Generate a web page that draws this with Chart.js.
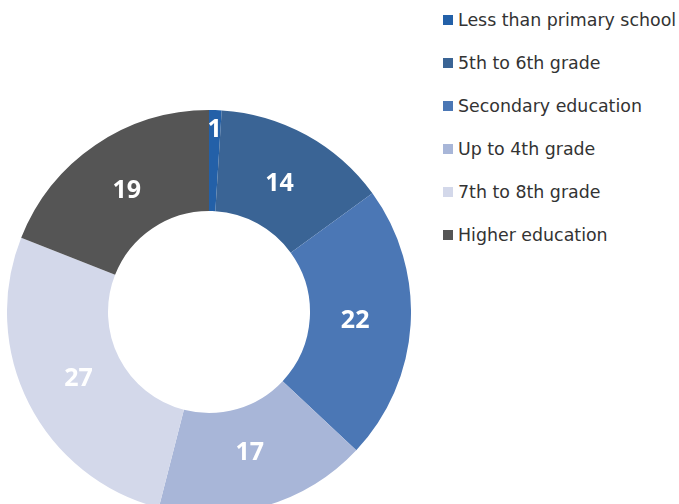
<!DOCTYPE html>
<html>
<head>
<meta charset="utf-8">
<script src="https://cdn.jsdelivr.net/npm/chart.js@4/dist/chart.umd.min.js"></script>
<style>
  html, body { margin: 0; padding: 0; width: 679px; height: 504px; overflow: hidden; background: #fff; }
  #wrap { position: absolute; left: 7px; top: 110px; width: 404px; height: 404px; }
  #legend { position: absolute; left: 443px; top: 0; margin: 0; padding: 0; list-style: none;
            font-family: "DejaVu Sans", sans-serif; font-size: 17.4px; color: #333333; }
  #legend li { height: 43px; display: flex; align-items: center; position: relative; top: -2px; white-space: nowrap; }
  #legend .sw { width: 10px; height: 10px; margin-right: 5px; flex: none; }
</style>
</head>
<body>
<div id="wrap"><canvas id="c" width="404" height="404"></canvas></div>
<ul id="legend"></ul>
<script>
const categories = [
  "Less than primary school",
  "5th to 6th grade",
  "Secondary education",
  "Up to 4th grade",
  "7th to 8th grade",
  "Higher education"
];
const values = [1, 14, 22, 17, 27, 19];
const colors = ["#2360a8", "#3a6495", "#4b77b5", "#a8b6d8", "#d3d8ea", "#555555"];

// legend list built from the same arrays
const legend = document.getElementById("legend");
categories.forEach((name, i) => {
  const li = document.createElement("li");
  const sw = document.createElement("span");
  sw.className = "sw";
  sw.style.background = colors[i];
  li.appendChild(sw);
  li.appendChild(document.createTextNode(name));
  legend.appendChild(li);
});

// white value labels drawn inside each ring segment
const sliceLabels = {
  id: "sliceLabels",
  afterDatasetsDraw(chart) {
    const ctx = chart.ctx;
    const meta = chart.getDatasetMeta(0);
    const total = values.reduce((a, b) => a + b, 0);
    ctx.save();
    ctx.fillStyle = "#ffffff";
    ctx.font = "bold 25px 'Open Sans', sans-serif";
    ctx.textAlign = "center";
    ctx.textBaseline = "middle";
    meta.data.forEach((arc, i) => {
      const p = arc.getProps(["x", "y", "startAngle", "endAngle", "innerRadius", "outerRadius"], true);
      const mid = (p.startAngle + p.endAngle) / 2;
      const small = values[i] / total < 0.03;
      const f = small ? 0.8 : 0.45;
      const r = p.innerRadius + (p.outerRadius - p.innerRadius) * f;
      ctx.fillText(String(values[i]), p.x + Math.cos(mid) * r, p.y + Math.sin(mid) * r);
    });
    ctx.restore();
  }
};

new Chart(document.getElementById("c"), {
  type: "doughnut",
  data: {
    labels: categories,
    datasets: [{
      data: values,
      backgroundColor: colors,
      borderWidth: 0
    }]
  },
  options: {
    responsive: false,
    animation: false,
    cutout: "50%",
    layout: { padding: 0 },
    plugins: { legend: { display: false }, tooltip: { enabled: false } }
  },
  plugins: [sliceLabels]
});
</script>
</body>
</html>
